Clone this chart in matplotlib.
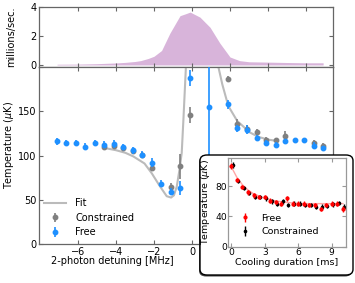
import numpy as np
import matplotlib
matplotlib.use("Agg")
import matplotlib.pyplot as plt
from matplotlib.patches import FancyBboxPatch

# ---- data ----
rate_x = [-7.1, -6.0, -5.0, -4.0, -3.5, -3.0, -2.7, -2.3, -2.0, -1.6, -1.16, -0.63, -0.3, -0.1, 0.42, 0.95, 1.47, 2.0, 2.5, 3.0, 3.9, 5.0, 6.0, 6.9]
rate_y = [0.05, 0.06, 0.09, 0.14, 0.18, 0.24, 0.3, 0.45, 0.6, 1.0, 2.2, 3.4, 3.55, 3.65, 3.3, 2.6, 1.5, 0.55, 0.3, 0.22, 0.2, 0.17, 0.15, 0.15]

free_x = [-7.12, -6.63, -6.12, -5.63, -5.12, -4.61, -4.12, -3.61, -3.12, -2.61, -2.12, -1.61, -1.12, -0.61, -0.1, 0.9,
          1.88, 2.39, 2.88, 3.4, 3.9, 4.4, 4.9, 5.4, 5.9, 6.4, 6.9]
free_T = [116, 114, 114, 110, 114, 112, 113, 110, 106, 101, 92, 68, 59, 63, 188, 155,
          158, 131, 129, 120, 114, 112, 116, 117, 117, 111, 108]
free_err = [4, 3, 3, 4, 3, 4, 4, 3, 4, 4, 5, 4, 4, 8, 9, 160,
            5, 4, 5, 3, 3, 3, 3, 3, 3, 4, 3]

con_x = [-4.61, -4.12, -3.61, -3.12, -2.61, -2.12, -1.12, -0.61, -0.1, 1.88, 2.39, 2.88, 3.4, 3.9, 4.4, 4.9, 6.4, 6.9]
con_T = [110, 111, 109, 105, 101, 86, 64, 88, 146, 187, 136, 130, 127, 118, 117, 122, 114, 111]
con_err = [3, 3, 3, 3, 3, 4, 5, 14, 9, 3, 5, 5, 3, 3, 3, 6, 4, 3]

fit_x = [-4.6, -4.0, -3.5, -3.09, -2.5, -2.12, -1.68, -1.33, -1.1, -0.95, -0.8, -0.65, -0.54, -0.45, -0.32,
         np.nan, 1.39, 1.6, 1.91, 2.38, 3.05, 3.5, 4.0, 4.45]
fit_T = [108.5, 106, 103, 99, 91, 80, 65, 54, 52.5, 55, 65, 85, 103, 141, 200,
         np.nan, 200, 180, 156, 139, 126, 121, 118, 116.5]

cool_t = [0, 0.5, 1, 1.5, 2, 2.5, 3, 3.5, 4, 4.5, 5, 5.5, 6, 6.5, 7, 7.5, 8, 8.5, 9, 9.5, 10]
cool_free = [107, 88, 79, 72, 68, 66, 66, 61, 59, 57, 64, 57, 57, 57, 55, 55, 50, 55, 57, 57, 50]
cool_con = [108, 87, 78, 71, 66, 66, 64, 60, 57, 60, 55, 57, 57, 55, 55, 53, 53, 54, 56, 58, 52]
cool_err = [4, 3, 3, 3, 3, 3, 3, 3, 3, 3, 3, 3, 3, 3, 3, 3, 3, 3, 3, 3, 4]
cool_fit_t = [0, 0.5, 1, 1.5, 2, 3, 4, 5, 6, 7, 8, 9, 10]
cool_fit_T = [106, 92, 82, 75, 70, 64, 60.5, 58.5, 57.5, 57, 57, 57, 57]

main_xticks = [-6, -4, -2, 0, 2, 4, 6]
main_xticklabels = ['\u22126', '\u22124', '\u22122', '0', '', '', '']  # 2, 4, 6 sit under the inset
main_yticks = [0, 50, 100, 150, 200]
rate_yticks = [0, 2, 4]
cool_xticks = [0, 3, 6, 9]
cool_yticks = [0, 40, 80]

# ---- style ----
W, H = 355, 283
plt.rcParams['font.family'] = ['DejaVu Sans']
plt.rcParams['font.size'] = 7
spine_c = '#666666'
blue = '#1e90ff'
gray = '#808080'

fig = plt.figure(figsize=(W / 100, H / 100), dpi=100)

def fx(px):
    return px / W

def fy(py):
    return 1 - py / H

def style(ax, sc=spine_c, pad=2, ls=7):
    for s in ax.spines.values():
        s.set_color(sc)
        s.set_linewidth(0.9)
    ax.tick_params(direction='in', top=True, right=True, color=sc, length=3, width=0.8,
                   labelsize=ls, pad=pad)

# top axes
ax_top = fig.add_axes([fx(39), fy(67), fx(333) - fx(39), fy(7) - fy(67)])
ax_top.fill_between(rate_x, 0, rate_y, color='#d8b4da', lw=0)
ax_top.set_xlim(-8.05, 7.42)
ax_top.set_ylim(-0.14, 4.0)
ax_top.set_xticks(main_xticks)
ax_top.set_xticklabels([])
ax_top.set_yticks(rate_yticks)
ax_top.set_ylabel('millions/sec.', fontsize=7)
style(ax_top)

# main axes
ax = fig.add_axes([fx(39), fy(244), fx(333) - fx(39), fy(67) - fy(244)], zorder=1)
ax.plot(fit_x, fit_T, color='#bbbbbb', lw=1.5, label='Fit', zorder=1)
ax.errorbar(con_x, con_T, yerr=con_err, fmt='o', color=gray, ms=3.2, elinewidth=1.2,
            capsize=0, label='Constrained', zorder=2)
ax.errorbar(free_x, free_T, yerr=free_err, fmt='o', color=blue, ms=3.2, elinewidth=1.2,
            capsize=0, label='Free', zorder=3)
ax.set_xlim(-8.05, 7.42)
ax.set_ylim(0, 200)
ax.set_xticks(main_xticks)
ax.set_xticklabels(main_xticklabels)
ax.set_yticks(main_yticks)
ax.set_yticklabels(['0', '50', '100', '150', ''])
ax.set_xlabel('2-photon detuning [MHz]', fontsize=7)
ax.set_ylabel(r'Temperature ($\mu$K)', fontsize=7)
style(ax)
ax.legend(loc='lower left', bbox_to_anchor=(-0.005, 0.0), frameon=False, fontsize=7,
          handlelength=2.2, handletextpad=1.0, labelspacing=0.45, borderaxespad=0.3)
ax_top.yaxis.set_label_coords(-0.078, 0.5)
ax.yaxis.set_label_coords(-0.078, 0.56)
ax.xaxis.set_label_coords(0.25, -0.07)

# inset frame
shadow = FancyBboxPatch((fx(199), fy(276.5)), fx(353) - fx(200), fy(155) - fy(275),
                        boxstyle='round,pad=0,rounding_size=0.02', transform=fig.transFigure,
                        facecolor='#444444', edgecolor='none', zorder=2)
box = FancyBboxPatch((fx(200), fy(275)), fx(353) - fx(200), fy(155) - fy(275),
                     boxstyle='round,pad=0,rounding_size=0.02', transform=fig.transFigure,
                     facecolor='white', edgecolor='black', lw=1.0, zorder=2.1)
fig.add_artist(shadow)
fig.add_artist(box)

# inset axes
axi = fig.add_axes([fx(228.3), fy(246.7), fx(345.7) - fx(228.3), fy(158.3) - fy(246.7)], zorder=3)
axi.plot(cool_fit_t, cool_fit_T, color='#ff9090', lw=1.0, alpha=0.8, zorder=1)
axi.errorbar(cool_t, cool_free, yerr=cool_err, fmt='o', color='red', ms=2.0, elinewidth=1.0,
             capsize=0, label='Free', zorder=3)
axi.errorbar([t + 0.12 for t in cool_t], cool_con, yerr=cool_err, fmt='o', color='black', ms=1.6,
             elinewidth=1.0, capsize=0, label='Constrained', zorder=2)
axi.set_xlim(-0.26, 10.25)
axi.set_ylim(0, 117)
axi.set_xticks(cool_xticks)
axi.set_yticks(cool_yticks)
axi.set_xlabel('Cooling duration [ms]', fontsize=6.8)
axi.set_ylabel(r'Temperature ($\mu$K)', fontsize=6.8)
style(axi, '#999999', pad=1.0, ls=6.6)
axi.xaxis.set_label_coords(0.5, -0.125)
axi.yaxis.set_label_coords(-0.135, 0.5)
axi.patch.set_alpha(0)
axi.legend(loc='lower left', bbox_to_anchor=(0.03, 0.02), frameon=False, fontsize=6.8,
           handlelength=1.0, handletextpad=1.2, labelspacing=0.5)

fig.savefig('out.png', dpi=100)
